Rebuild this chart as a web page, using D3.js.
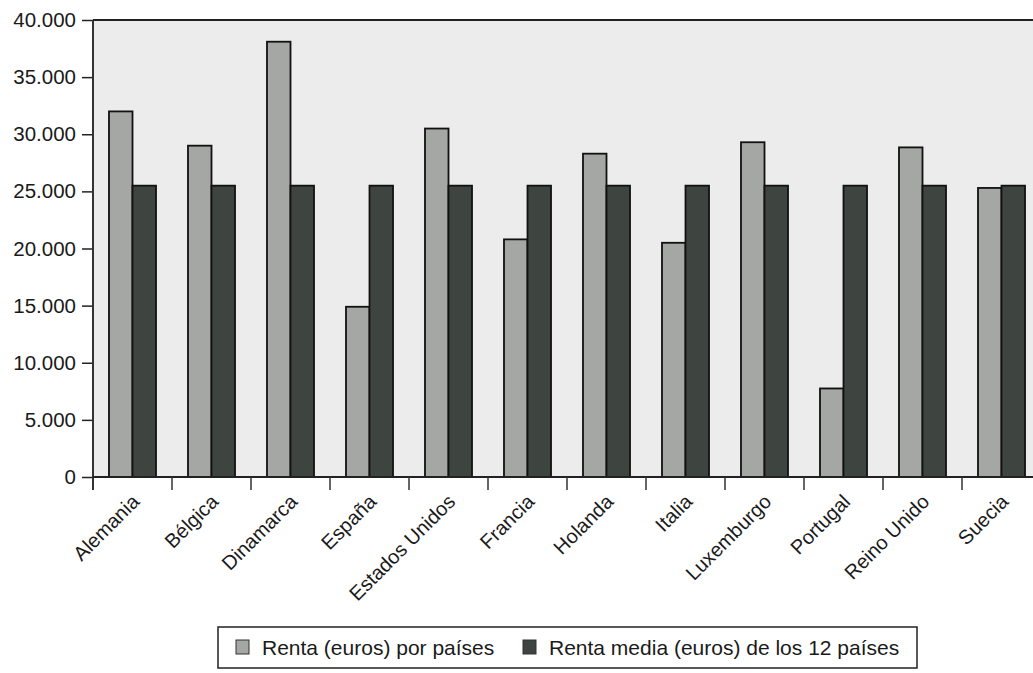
<!DOCTYPE html>
<html>
<head>
<meta charset="utf-8">
<script src="https://cdn.jsdelivr.net/npm/d3@7"></script>
<style>
  body { margin: 0; background: #fff; }
  svg { display: block; font-family: 'Liberation Sans', Arial, sans-serif; }
</style>
</head>
<body>
<div class="chart"></div>
<script>
/*** DATA ***/
const countries = ['Alemania', 'Bélgica', 'Dinamarca', 'España', 'Estados Unidos', 'Francia',
  'Holanda', 'Italia', 'Luxemburgo', 'Portugal', 'Reino Unido', 'Suecia'];
const rentaPais = [32000, 29000, 38100, 14900, 30500, 20800, 28300, 20500, 29300, 7750, 28850, 25300];
const rentaMedia = [25500, 25500, 25500, 25500, 25500, 25500, 25500, 25500, 25500, 25500, 25500, 25500];
const seriesNames = ['Renta (euros) por países', 'Renta media (euros) de los 12 países'];
const yTicks = [0, 5000, 10000, 15000, 20000, 25000, 30000, 35000, 40000];

/*** DRAW CHART ***/
const width = 1033, height = 673;
const plot = { left: 93, top: 20, right: 1041, bottom: 477 };
const colors = ['#a5a7a4', '#3e4541'];

const svg = d3.select('.chart')
  .append('svg')
  .attr('width', width)
  .attr('height', height);

const x = d3.scaleBand()
  .domain(countries)
  .range([plot.left, plot.right]);

const xInner = d3.scaleBand()
  .domain([0, 1])
  .range([0, x.bandwidth()])
  .paddingOuter(0.68);

const y = d3.scaleLinear()
  .domain([0, 40000])
  .range([plot.bottom, plot.top]);

const locale = d3.formatLocale({ decimal: ',', thousands: '.', grouping: [3], currency: ['', '€'] });
const fmt = locale.format(',.0f');

// plot background
svg.append('rect')
  .attr('x', plot.left)
  .attr('y', plot.top)
  .attr('width', plot.right - plot.left)
  .attr('height', plot.bottom - plot.top)
  .attr('fill', '#ececec');

// bars
const rows = countries.map((c, i) => ({ country: c, values: [rentaPais[i], rentaMedia[i]] }));

svg.append('g')
  .selectAll('g')
  .data(rows)
  .join('g')
  .attr('transform', d => `translate(${x(d.country)},0)`)
  .selectAll('rect')
  .data(d => d.values.map((v, k) => ({ k, v })))
  .join('rect')
  .attr('x', d => xInner(d.k))
  .attr('y', d => y(d.v))
  .attr('width', xInner.bandwidth())
  .attr('height', d => y(0) - y(d.v))
  .attr('fill', d => colors[d.k])
  .attr('stroke', '#111')
  .attr('stroke-width', 1.8);

// y axis
const yAxis = svg.append('g')
  .attr('transform', `translate(${plot.left},0)`)
  .call(d3.axisLeft(y).tickValues(yTicks).tickFormat(fmt).tickSize(11).tickPadding(6));
yAxis.select('.domain').remove();
yAxis.selectAll('line').attr('stroke', '#222').attr('stroke-width', 1.5);
yAxis.selectAll('text').style('font-size', '20.5px').attr('fill', '#1a1a1a');

// frame lines
svg.append('line')
  .attr('x1', plot.left).attr('x2', plot.left)
  .attr('y1', plot.top).attr('y2', plot.bottom + 13)
  .attr('stroke', '#333').attr('stroke-width', 2);
svg.append('line')
  .attr('x1', plot.left).attr('x2', width)
  .attr('y1', plot.top).attr('y2', plot.top)
  .attr('stroke', '#222').attr('stroke-width', 2);
svg.append('line')
  .attr('x1', plot.left).attr('x2', width)
  .attr('y1', plot.bottom).attr('y2', plot.bottom)
  .attr('stroke', '#222').attr('stroke-width', 2);

// category ticks at band boundaries
svg.append('g')
  .selectAll('line')
  .data(countries.slice(1))
  .join('line')
  .attr('x1', d => x(d)).attr('x2', d => x(d))
  .attr('y1', plot.bottom).attr('y2', plot.bottom + 13)
  .attr('stroke', '#333').attr('stroke-width', 1.5);

// category labels
svg.append('g')
  .selectAll('text')
  .data(countries)
  .join('text')
  .attr('transform', d => `translate(${x(d) + x.bandwidth() / 2 + 8},${plot.bottom + 26}) rotate(-45)`)
  .attr('text-anchor', 'end')
  .style('font-size', '20px')
  .attr('fill', '#1a1a1a')
  .text(d => d);

// LEGEND
const legend = svg.append('g');
legend.append('rect')
  .attr('x', 218).attr('y', 627)
  .attr('width', 699).attr('height', 41)
  .attr('fill', '#fff')
  .attr('stroke', '#222')
  .attr('stroke-width', 1.5);

const legendX = [236, 523];
const items = legend.selectAll('g.item')
  .data(seriesNames)
  .join('g')
  .attr('class', 'item')
  .attr('transform', (d, i) => `translate(${legendX[i]},640)`);

items.append('rect')
  .attr('width', 13).attr('height', 14)
  .attr('fill', (d, i) => colors[i])
  .attr('stroke', '#333')
  .attr('stroke-width', 1);

items.append('text')
  .attr('x', 26).attr('y', 15)
  .style('font-size', '21px')
  .attr('fill', '#1a1a1a')
  .text(d => d);
</script>
</body>
</html>
